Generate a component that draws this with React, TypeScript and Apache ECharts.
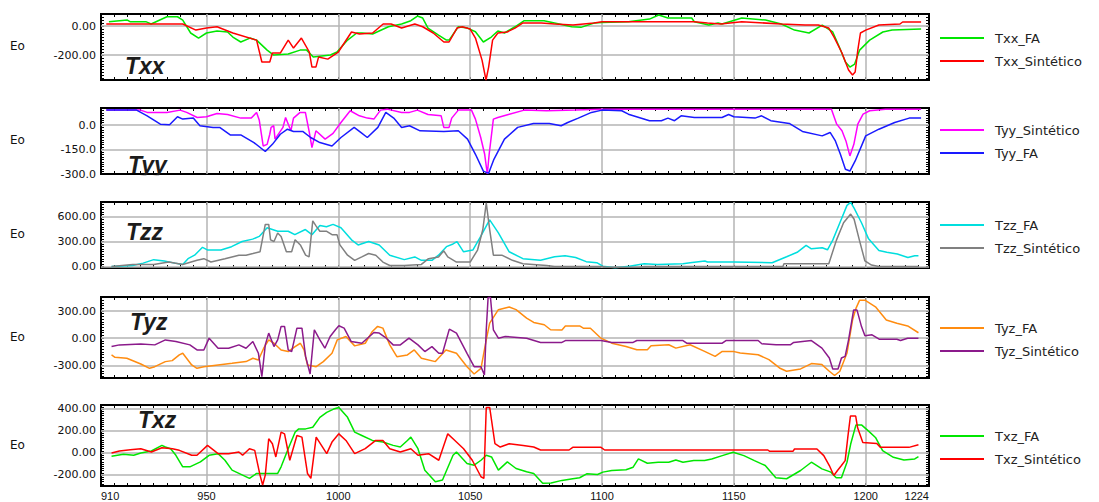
import React, { useEffect, useRef } from "react";
import * as echarts from "echarts";

// x axis (depth) settings
const X_MIN = 910;
const X_MAX = 1224;
const xLabelValues = [910, 950, 1000, 1050, 1100, 1150, 1200, 1224];
const xGridValues = [950, 1000, 1050, 1100, 1150, 1200];

// Txx
const txxFA = [[913,30],[920,41],[921,30],[927,30],[929,14],[935,64],[939,64],[941,41],[944,-48],[947,-83],[950,-48],[954,-34],[958,-41],[960,-76],[963,-110],[966.5,-83],[969,-97],[973,-166],[975.5,-200],[981,-193],[985.5,-166],[988,-166],[990.5,-214],[997,-200],[999.5,-179],[1003.5,-97],[1007,-48],[1009,-48],[1013,-55],[1019,-5],[1024,14],[1027.5,37],[1030,69],[1032,55],[1034,-14],[1038,-62],[1041,-97],[1042,-97],[1045.5,-5],[1049,-14],[1052,-39],[1055,-110],[1058,-76],[1060.5,-34],[1063,-48],[1067,-5],[1070.5,37],[1078,37],[1082,21],[1088.5,-5],[1092,-9],[1097,21],[1100,25],[1110,30],[1118,48],[1121.5,76],[1125,55],[1134,55],[1135,30],[1140.5,7],[1144,21],[1145.5,14],[1153,55],[1162,41],[1168,14],[1173,-28],[1178.5,-48],[1183.5,7],[1187.5,-41],[1190,-145],[1192.3,-248],[1194,-283],[1195.8,-262],[1197.7,-166],[1201.5,-97],[1206.5,-41],[1210,-28],[1221,-21]];
const txxSint = [[912,14],[941,14],[946,-28],[950,-14],[954,-5],[960,-48],[969,-97],[971,-248],[974,-248],[975,-186],[978,-186],[981,-97],[983,-152],[986,-83],[989,-179],[990,-283],[991.5,-283],[992.5,-214],[996,-228],[1000,-179],[1005,-41],[1008,-55],[1013,-48],[1017,14],[1020,14],[1024,-14],[1029,14],[1032,-5],[1036,-48],[1040,-110],[1042,-110],[1045,-14],[1047,-5],[1050,-21],[1052,-83],[1054.5,-235],[1056,-372],[1057,-283],[1058.5,-97],[1060.5,-48],[1064,-41],[1067,-14],[1070,21],[1077,21],[1082,14],[1089,7],[1097,21],[1100,30],[1135,30],[1140,21],[1145,14],[1153,30],[1168,14],[1177,7],[1182,7],[1186,-14],[1188,-76],[1191,-186],[1193.5,-303],[1195,-338],[1196,-317],[1197,-166],[1198,-48],[1200,-28],[1205,7],[1213,14],[1214,28],[1221,28]];

// Tyy
const tyySint = [[912,92],[925,92],[927.5,78],[935,78],[940,92],[942.5,78],[946.5,47],[950,51],[954,71],[958,65],[963,43],[967,43],[969,78],[970,32],[971.5,-128],[973,-118],[974,-56],[974.5,-14],[975.5,-4],[976,-86],[979,-14],[980,47],[982,-35],[983,43],[985.5,78],[987.5,78],[989,-45],[990,-138],[991.5,-35],[995,-86],[998,-51],[1001,16],[1004.5,88],[1008,57],[1011,43],[1013.5,37],[1016,92],[1018.5,98],[1024,78],[1027,78],[1030,92],[1034,65],[1039,57],[1040,-14],[1042,-14],[1043,43],[1045.5,92],[1050.5,92],[1052,37],[1054,-76],[1055.5,-179],[1056.5,-300],[1057.2,-179],[1058.8,37],[1060.5,47],[1064.5,65],[1070.5,92],[1079,88],[1090,92],[1100,98],[1187,98],[1189,6],[1191,-35],[1192.5,-97],[1194,-189],[1195.5,-118],[1197,6],[1199,67],[1201.5,88],[1207.5,98],[1221,98]];
const tyyFA = [[912,92],[923.5,92],[927.5,57],[932.5,6],[936,2],[939,51],[941,37],[945,43],[947.5,-4],[952.5,-14],[955,-14],[959,-60],[963,-60],[968,-107],[972.3,-162],[975,-118],[978,-56],[980.7,-25],[983,-39],[986.5,-39],[989.5,-76],[993,-107],[997.6,-128],[1001,-76],[1006,-14],[1008.5,-45],[1011,-76],[1015,-14],[1018,78],[1021,43],[1024,-14],[1027,-4],[1031,-35],[1040,-39],[1045.5,-35],[1049,-86],[1052,-179],[1055,-282],[1057,-296],[1059,-210],[1063,-86],[1068,-14],[1074,10],[1080,10],[1084.5,-4],[1087,16],[1091,43],[1096,78],[1100,92],[1107.5,88],[1110,67],[1118,27],[1122.5,27],[1125,43],[1127.5,27],[1130,57],[1135,47],[1145.5,47],[1148,65],[1150,51],[1158,43],[1160.5,57],[1164,27],[1171,10],[1176,-39],[1183.5,-66],[1186.5,-45],[1188.5,-97],[1190.4,-179],[1192.3,-271],[1194,-282],[1196,-220],[1200,-66],[1205,-25],[1211,16],[1216.5,43],[1221,43]];

// Tzz
const tzzFA = [[914,0],[922,12],[926,41],[930,83],[934,66],[938,41],[941,25],[943,95],[945.5,137],[948.5,232],[950.5,199],[955.5,199],[959.5,240],[963.5,302],[967.5,331],[970,364],[973,468],[977,426],[981,426],[983.5,385],[987.5,447],[990,385],[993,497],[995.5,480],[998,509],[1001,468],[1005,323],[1007.5,261],[1011.5,302],[1015.5,261],[1019.5,137],[1025,83],[1029,116],[1031.5,75],[1035.5,75],[1038,137],[1041,240],[1043.5,273],[1045,302],[1047.5,178],[1051,199],[1054,364],[1056.8,530],[1057.4,563],[1060.7,406],[1064.8,178],[1070,95],[1076.7,76],[1082,118],[1086,130],[1090,109],[1094,59],[1098,46],[1100.3,4],[1105,-15],[1110.4,4],[1116,34],[1121,25],[1130.7,34],[1133.4,46],[1139,67],[1140,55],[1150,55],[1164.5,46],[1170,118],[1174,172],[1177.4,256],[1179.4,214],[1183.5,227],[1185.5,202],[1187.5,319],[1190.2,529],[1192.9,739],[1194.3,775],[1195.6,706],[1198.4,529],[1201,340],[1205,193],[1208,172],[1212,151],[1216,109],[1218.6,130],[1220,130]];
const tzzSint = [[914,0],[922,25],[930,25],[935.7,54],[941,25],[946.4,75],[949,95],[951.7,54],[957,95],[962.3,137],[965,137],[967.6,157],[970.3,178],[972.3,509],[973.6,509],[974.3,323],[975.6,302],[977,406],[978.3,364],[980.3,178],[982.3,178],[983.6,323],[985.6,261],[987.6,137],[988.9,116],[990.3,551],[991.6,489],[993,426],[995.6,426],[997.6,385],[999.5,385],[1000.6,261],[1003.5,137],[1006.2,75],[1008.9,116],[1011.5,157],[1014.2,137],[1016.9,54],[1019.5,12],[1025,12],[1031.5,25],[1034.2,95],[1038,116],[1040,190],[1041.5,116],[1044.8,54],[1050,54],[1052.8,199],[1054.8,447],[1056.1,770],[1057.4,447],[1058.8,137],[1062,137],[1066,75],[1070,33],[1079,12],[1082,0],[1100,0],[1102,-10],[1114,-10],[1116,0],[1168.6,0],[1169,34],[1186,34],[1188.9,319],[1191.6,529],[1194.3,634],[1195.6,571],[1197.6,319],[1199.7,67],[1202.2,17],[1205,0],[1220,0]];

// Tyz
const tyzFA = [[914,-185],[915.3,-211],[919.8,-222],[925.1,-285],[928.4,-333],[930.4,-315],[934.4,-259],[937,-248],[939.7,-185],[941,-167],[944.4,-296],[946.4,-333],[949,-315],[954.4,-296],[959.7,-278],[965,-259],[967.6,-222],[969.7,-241],[971.7,-111],[973.6,-19],[975.6,-56],[978.3,-130],[981,-148],[983.6,-93],[985.6,-56],[987,-130],[988.3,-296],[991.6,-315],[994.3,-259],[997.6,-167],[999.6,-19],[1002.9,19],[1006.2,-85],[1010.2,-56],[1012.9,74],[1014.9,130],[1016.9,111],[1019.5,-74],[1022.2,-204],[1026.2,-185],[1028.8,-130],[1031.5,-222],[1036.8,-259],[1040.8,-130],[1044.8,-167],[1048.8,-315],[1051.5,-396],[1054.1,-333],[1056.1,-19],[1057.4,167],[1060.7,315],[1064.8,344],[1067.4,315],[1071.4,222],[1074.1,174],[1078.1,148],[1080.5,93],[1084.8,91],[1086.1,135],[1091.5,135],[1092.9,110],[1095.6,110],[1099.6,0],[1103.7,-55],[1109.1,-91],[1113.2,-128],[1117.2,-128],[1118.6,-84],[1125.3,-73],[1128,-110],[1133.4,-73],[1138.9,-146],[1142.9,-201],[1145.6,-146],[1149.7,-146],[1152.4,-164],[1159.2,-183],[1163.3,-237],[1167.3,-329],[1170,-365],[1175.3,-340],[1179.4,-281],[1183.4,-292],[1186.2,-365],[1188.2,-412],[1190.2,-365],[1192.9,-164],[1195,200],[1196.3,329],[1197.7,420],[1199.7,420],[1203.7,347],[1207.8,200],[1211.8,164],[1215.9,135],[1220,60]];
const tyzSint = [[914,-93],[917,-74],[925.1,-63],[930.4,-74],[934.4,-19],[938.4,-37],[943.7,-74],[946.4,-130],[949,-130],[951,0],[954.4,-111],[958.4,-111],[962.3,-74],[965,-111],[967.6,-37],[969.7,-167],[971,-426],[972.3,-74],[973.6,56],[975.6,-93],[977,-19],[978.3,130],[979.6,130],[981,-130],[982.3,-148],[984.3,111],[986.2,111],[987.6,-204],[989.3,-396],[990.9,93],[993,-19],[994.9,-111],[996.9,19],[998.9,93],[1000.2,137],[1002.2,111],[1004.9,-37],[1008.9,-56],[1013.5,63],[1015.5,56],[1018.2,0],[1020.8,-74],[1023.5,-74],[1026.8,0],[1030.2,-74],[1032.8,-148],[1035.5,-93],[1038.1,-167],[1039.5,-167],[1042.1,100],[1044.8,56],[1048.8,-167],[1051.5,-315],[1054.1,-315],[1055.4,-407],[1056.1,93],[1056.8,450],[1057.7,450],[1058.8,93],[1060.7,0],[1063.3,19],[1071.4,0],[1076.7,-47],[1084.8,-47],[1086.1,-26],[1099.6,-26],[1103.7,-47],[1111.8,-47],[1113.2,-26],[1130.7,-26],[1132.1,-55],[1145.6,-55],[1147,-26],[1159.2,-26],[1160.6,-62],[1166,-73],[1171.4,-73],[1172.7,-47],[1179.4,-26],[1183.4,-110],[1186.2,-219],[1187.5,-340],[1189.5,-340],[1190.8,-219],[1192.2,-201],[1193.5,-18],[1195.4,310],[1196.7,310],[1198.4,128],[1199.7,26],[1202.4,37],[1205.1,-11],[1211.8,-11],[1213.2,-26],[1215.9,0],[1220,0]];

// Txz
const txzFA = [[914,-30],[918.5,-12],[922.4,-21],[925.1,0],[929.1,18],[933.1,69],[934.4,54],[936.4,39],[938.4,-21],[941,-126],[943.7,-126],[947.7,-81],[951,-21],[954.4,-6],[957,-66],[959.7,-156],[963.7,-201],[966.3,-231],[969,-186],[977,-186],[978.3,-126],[981,39],[983.6,189],[985,219],[987.6,219],[990.3,234],[993,324],[995.6,369],[998.2,399],[1000.2,414],[1003.5,324],[1006.2,189],[1008.9,159],[1012.9,114],[1016.9,99],[1020.8,69],[1023.5,54],[1026.2,114],[1027.5,144],[1030.2,39],[1032.8,-156],[1036.8,-261],[1039.5,-246],[1043.5,-21],[1044.8,9],[1048.8,-96],[1051.5,-111],[1054.1,-66],[1056.1,-21],[1058.1,-36],[1060.7,-156],[1064.1,-81],[1067.4,-141],[1071.4,-171],[1074.1,-186],[1077.5,-276],[1080.7,-273],[1084.8,-249],[1088.9,-234],[1091.5,-225],[1094.2,-189],[1098.3,-195],[1100.3,-174],[1103.7,-159],[1109.1,-153],[1111.8,-129],[1113.8,-54],[1117.2,-93],[1121.3,-84],[1125.3,-84],[1128,-63],[1130.7,-84],[1134.8,-69],[1138.9,-69],[1141.6,-54],[1145.6,-24],[1149.7,6],[1153.8,-24],[1157.8,-69],[1161.9,-114],[1165.9,-225],[1170,-234],[1175.3,-159],[1179.4,-84],[1183.4,-144],[1186.8,-174],[1188.8,-225],[1190.8,-225],[1192.9,-84],[1194.3,81],[1196.3,255],[1198.4,255],[1201,201],[1203.7,141],[1206.4,21],[1210.5,-39],[1214.5,-63],[1218.6,-54],[1220,-33]];
const txzSint = [[914,0],[917,18],[921.1,30],[925.1,39],[929.1,9],[933.1,48],[937.1,39],[939.7,24],[944.4,-21],[946.4,-21],[950.4,69],[954.4,-6],[958.4,-6],[962.3,9],[963.7,-21],[966.3,39],[968.3,24],[970.3,-201],[971.3,-291],[972.3,-201],[973.6,129],[975,84],[976.3,-36],[978.3,189],[979.6,174],[981.6,-66],[984.3,159],[986.2,144],[988.3,-186],[989.6,-231],[991.6,144],[993.6,69],[995.6,-6],[997.6,99],[1000.2,174],[1002.9,114],[1006.2,-6],[1010.2,39],[1014.2,114],[1016.9,114],[1019.5,39],[1023.5,9],[1027.5,39],[1030.2,-21],[1034.2,-6],[1038.1,-66],[1041.5,174],[1043.5,129],[1047.5,39],[1050.8,-66],[1054.1,-216],[1055.2,-231],[1056.1,414],[1057.4,414],[1059.4,84],[1061.4,54],[1064.8,84],[1070.1,69],[1074.1,54],[1076.7,27],[1087.5,27],[1088.9,51],[1099.6,51],[1101,27],[1162.9,27],[1163.6,15],[1172.4,15],[1173,36],[1181.5,36],[1184.1,-24],[1186.2,-114],[1187.9,-204],[1189.3,-159],[1190.8,-114],[1192.2,-69],[1193.2,141],[1194.2,336],[1196.2,336],[1196.9,231],[1198.9,96],[1204.2,87],[1205.6,51],[1216.4,51],[1220,75]];

// y axis label values per panel
const txxLabels = [0, -200];
const tyyLabels = [0, -150, -300];
const tzzLabels = [0, 300, 600];
const tyzLabels = [-300, 0, 300];
const txzLabels = [-200, 0, 200, 400];

type Line = { name: string; color: string; data: number[][] };
type Panel = {
  title: string;
  min: number;
  max: number;
  labels: number[];
  decimals: number;
  tickStep: number;
  top: number;
  height: number;
  legendTop: number;
  titleX: number;
  titleY: number;
  lines: Line[];
};

const panels: Panel[] = [
  {
    title: "Txx", min: -372, max: 83, labels: txxLabels, decimals: 2, tickStep: 20,
    top: 14, height: 66, legendTop: 31, titleX: 125, titleY: 66,
    lines: [
      { name: "Txx_FA", color: "#00e600", data: txxFA },
      { name: "Txx_Sintético", color: "#ff0000", data: txxSint },
    ],
  },
  {
    title: "Tyy", min: -300, max: 105, labels: tyyLabels, decimals: 1, tickStep: 15,
    top: 108, height: 66, legendTop: 123, titleX: 128, titleY: 164.5,
    lines: [
      { name: "Tyy_Sintético", color: "#ff00ff", data: tyySint },
      { name: "Tyy_FA", color: "#1a1aff", data: tyyFA },
    ],
  },
  {
    title: "Tzz", min: -18, max: 780, labels: tzzLabels, decimals: 2, tickStep: 30,
    top: 202, height: 66, legendTop: 218, titleX: 126, titleY: 232,
    lines: [
      { name: "Tzz_FA", color: "#00dede", data: tzzFA },
      { name: "Tzz_Sintético", color: "#808080", data: tzzSint },
    ],
  },
  {
    title: "Tyz", min: -440, max: 455, labels: tyzLabels, decimals: 2, tickStep: 30,
    top: 297, height: 81, legendTop: 321, titleX: 130, titleY: 322,
    lines: [
      { name: "Tyz_FA", color: "#ff8c10", data: tyzFA },
      { name: "Tyz_Sintético", color: "#8b1a8b", data: tyzSint },
    ],
  },
  {
    title: "Txz", min: -300, max: 436, labels: txzLabels, decimals: 2, tickStep: 20,
    top: 405, height: 81, legendTop: 429, titleX: 138, titleY: 420,
    lines: [
      { name: "Txz_FA", color: "#00e600", data: txzFA },
      { name: "Txz_Sintético", color: "#ff0000", data: txzSint },
    ],
  },
];

const PLOT_LEFT = 101;
const PLOT_RIGHT = 929;

function stepValues(min: number, max: number, step: number): number[] {
  const out: number[] = [];
  for (let v = Math.ceil(min / step) * step; v <= max; v += step) out.push(v);
  return out;
}

function buildOption() {
  const xTicks = stepValues(X_MIN, X_MAX, 5);
  const grid: any[] = [];
  const xAxis: any[] = [];
  const yAxis: any[] = [];
  const series: any[] = [];
  const legend: any[] = [];
  const graphic: any[] = [];

  panels.forEach((p, i) => {
    const last = i === panels.length - 1;
    grid.push({
      left: PLOT_LEFT,
      width: PLOT_RIGHT - PLOT_LEFT,
      top: p.top,
      height: p.height,
      show: true,
      borderColor: "#000",
      borderWidth: 2,
      backgroundColor: "transparent",
    });

    const tickStyle = { show: true, inside: true, length: 3, lineStyle: { color: "#000", width: 1 } };
    const hiddenLine = { show: false, onZero: false };
    xAxis.push({
      type: "value", gridIndex: i, min: X_MIN, max: X_MAX, position: "bottom",
      axisLine: hiddenLine, splitLine: { show: false },
      axisTick: { ...tickStyle, customValues: xTicks },
      axisLabel: last
        ? {
            show: true, customValues: xLabelValues, margin: 4, fontSize: 11,
            color: "#111", fontFamily: "Liberation Sans",
            alignMinLabel: "left", alignMaxLabel: "right",
            formatter: (v: number) => String(v),
          }
        : { show: false },
    });
    xAxis.push({
      type: "value", gridIndex: i, min: X_MIN, max: X_MAX, position: "top",
      axisLine: hiddenLine, splitLine: { show: false },
      axisTick: { ...tickStyle, customValues: xTicks },
      axisLabel: { show: false },
    });

    const yTicks = stepValues(p.min, p.max, p.tickStep);
    yAxis.push({
      type: "value", gridIndex: i, min: p.min, max: p.max, position: "left",
      axisLine: hiddenLine, splitLine: { show: false },
      axisTick: { ...tickStyle, customValues: yTicks },
      axisLabel: {
        show: true, customValues: p.labels, margin: 5, fontSize: 11,
        color: "#111", fontFamily: "DejaVu Sans",
        formatter: (v: number) => v.toFixed(p.decimals),
      },
    });
    yAxis.push({
      type: "value", gridIndex: i, min: p.min, max: p.max, position: "right",
      axisLine: hiddenLine, splitLine: { show: false },
      axisTick: { ...tickStyle, customValues: yTicks },
      axisLabel: { show: false },
    });

    const gridLines = [
      ...xGridValues.map((v) => ({ xAxis: v })),
      ...p.labels.filter((v) => v > p.min && v < p.max).map((v) => ({ yAxis: v })),
    ];

    p.lines.forEach((ln, j) => {
      series.push({
        type: "line",
        name: ln.name,
        xAxisIndex: 2 * i,
        yAxisIndex: 2 * i,
        data: ln.data,
        showSymbol: false,
        symbol: "none",
        z: 3,
        lineStyle: { color: ln.color, width: 1.5 },
        itemStyle: { color: ln.color },
        emphasis: { disabled: true },
        markLine:
          j === 0
            ? {
                silent: true,
                z: 1,
                symbol: ["none", "none"],
                label: { show: false },
                emphasis: { disabled: true },
                lineStyle: { color: "#b4b4b4", width: 1.5, type: "solid" },
                data: gridLines,
              }
            : undefined,
      });
    });

    legend.push({
      data: p.lines.map((l) => l.name),
      left: 940,
      top: p.legendTop,
      orient: "vertical",
      icon: "rect",
      itemWidth: 44,
      itemHeight: 2,
      itemGap: 9,
      padding: 0,
      selectedMode: false,
      textStyle: { fontSize: 13, lineHeight: 14, color: "#222", fontFamily: "DejaVu Sans", padding: [0, 0, 0, 6] },
    });

    graphic.push({
      type: "text",
      left: 10,
      top: p.top + p.height / 2 - 7,
      style: { text: "Eo", fontSize: 12, fontFamily: "DejaVu Sans", fill: "#111" },
    });

    graphic.push({
      type: "text",
      x: p.titleX,
      y: p.titleY,
      z: 50,
      style: {
        text: p.title,
        fontSize: 23,
        fontWeight: "bold",
        fontStyle: "italic",
        fontFamily: "Liberation Sans",
        fill: "#1c1c1c",
        verticalAlign: "middle",
      },
    });
  });

  // the Tyy title sits on the frame edge; hide the part below the frame
  graphic.push({
    type: "rect",
    z: 60,
    shape: { x: 120, y: 175.2, width: 60, height: 8 },
    style: { fill: "#fff" },
  });

  return {
    animation: false,
    backgroundColor: "#fff",
    grid,
    xAxis,
    yAxis,
    series,
    legend,
    graphic,
  };
}

export default function App() {
  const ref = useRef<HTMLDivElement>(null);
  useEffect(() => {
    if (!ref.current) return;
    const chart = echarts.init(ref.current, undefined, { renderer: "svg" });
    chart.setOption(buildOption() as any);
    return () => chart.dispose();
  }, []);
  return (
    <div
      ref={ref}
      style={{ position: "fixed", left: 0, top: 0, width: 1099, height: 502, background: "#fff" }}
    />
  );
}
